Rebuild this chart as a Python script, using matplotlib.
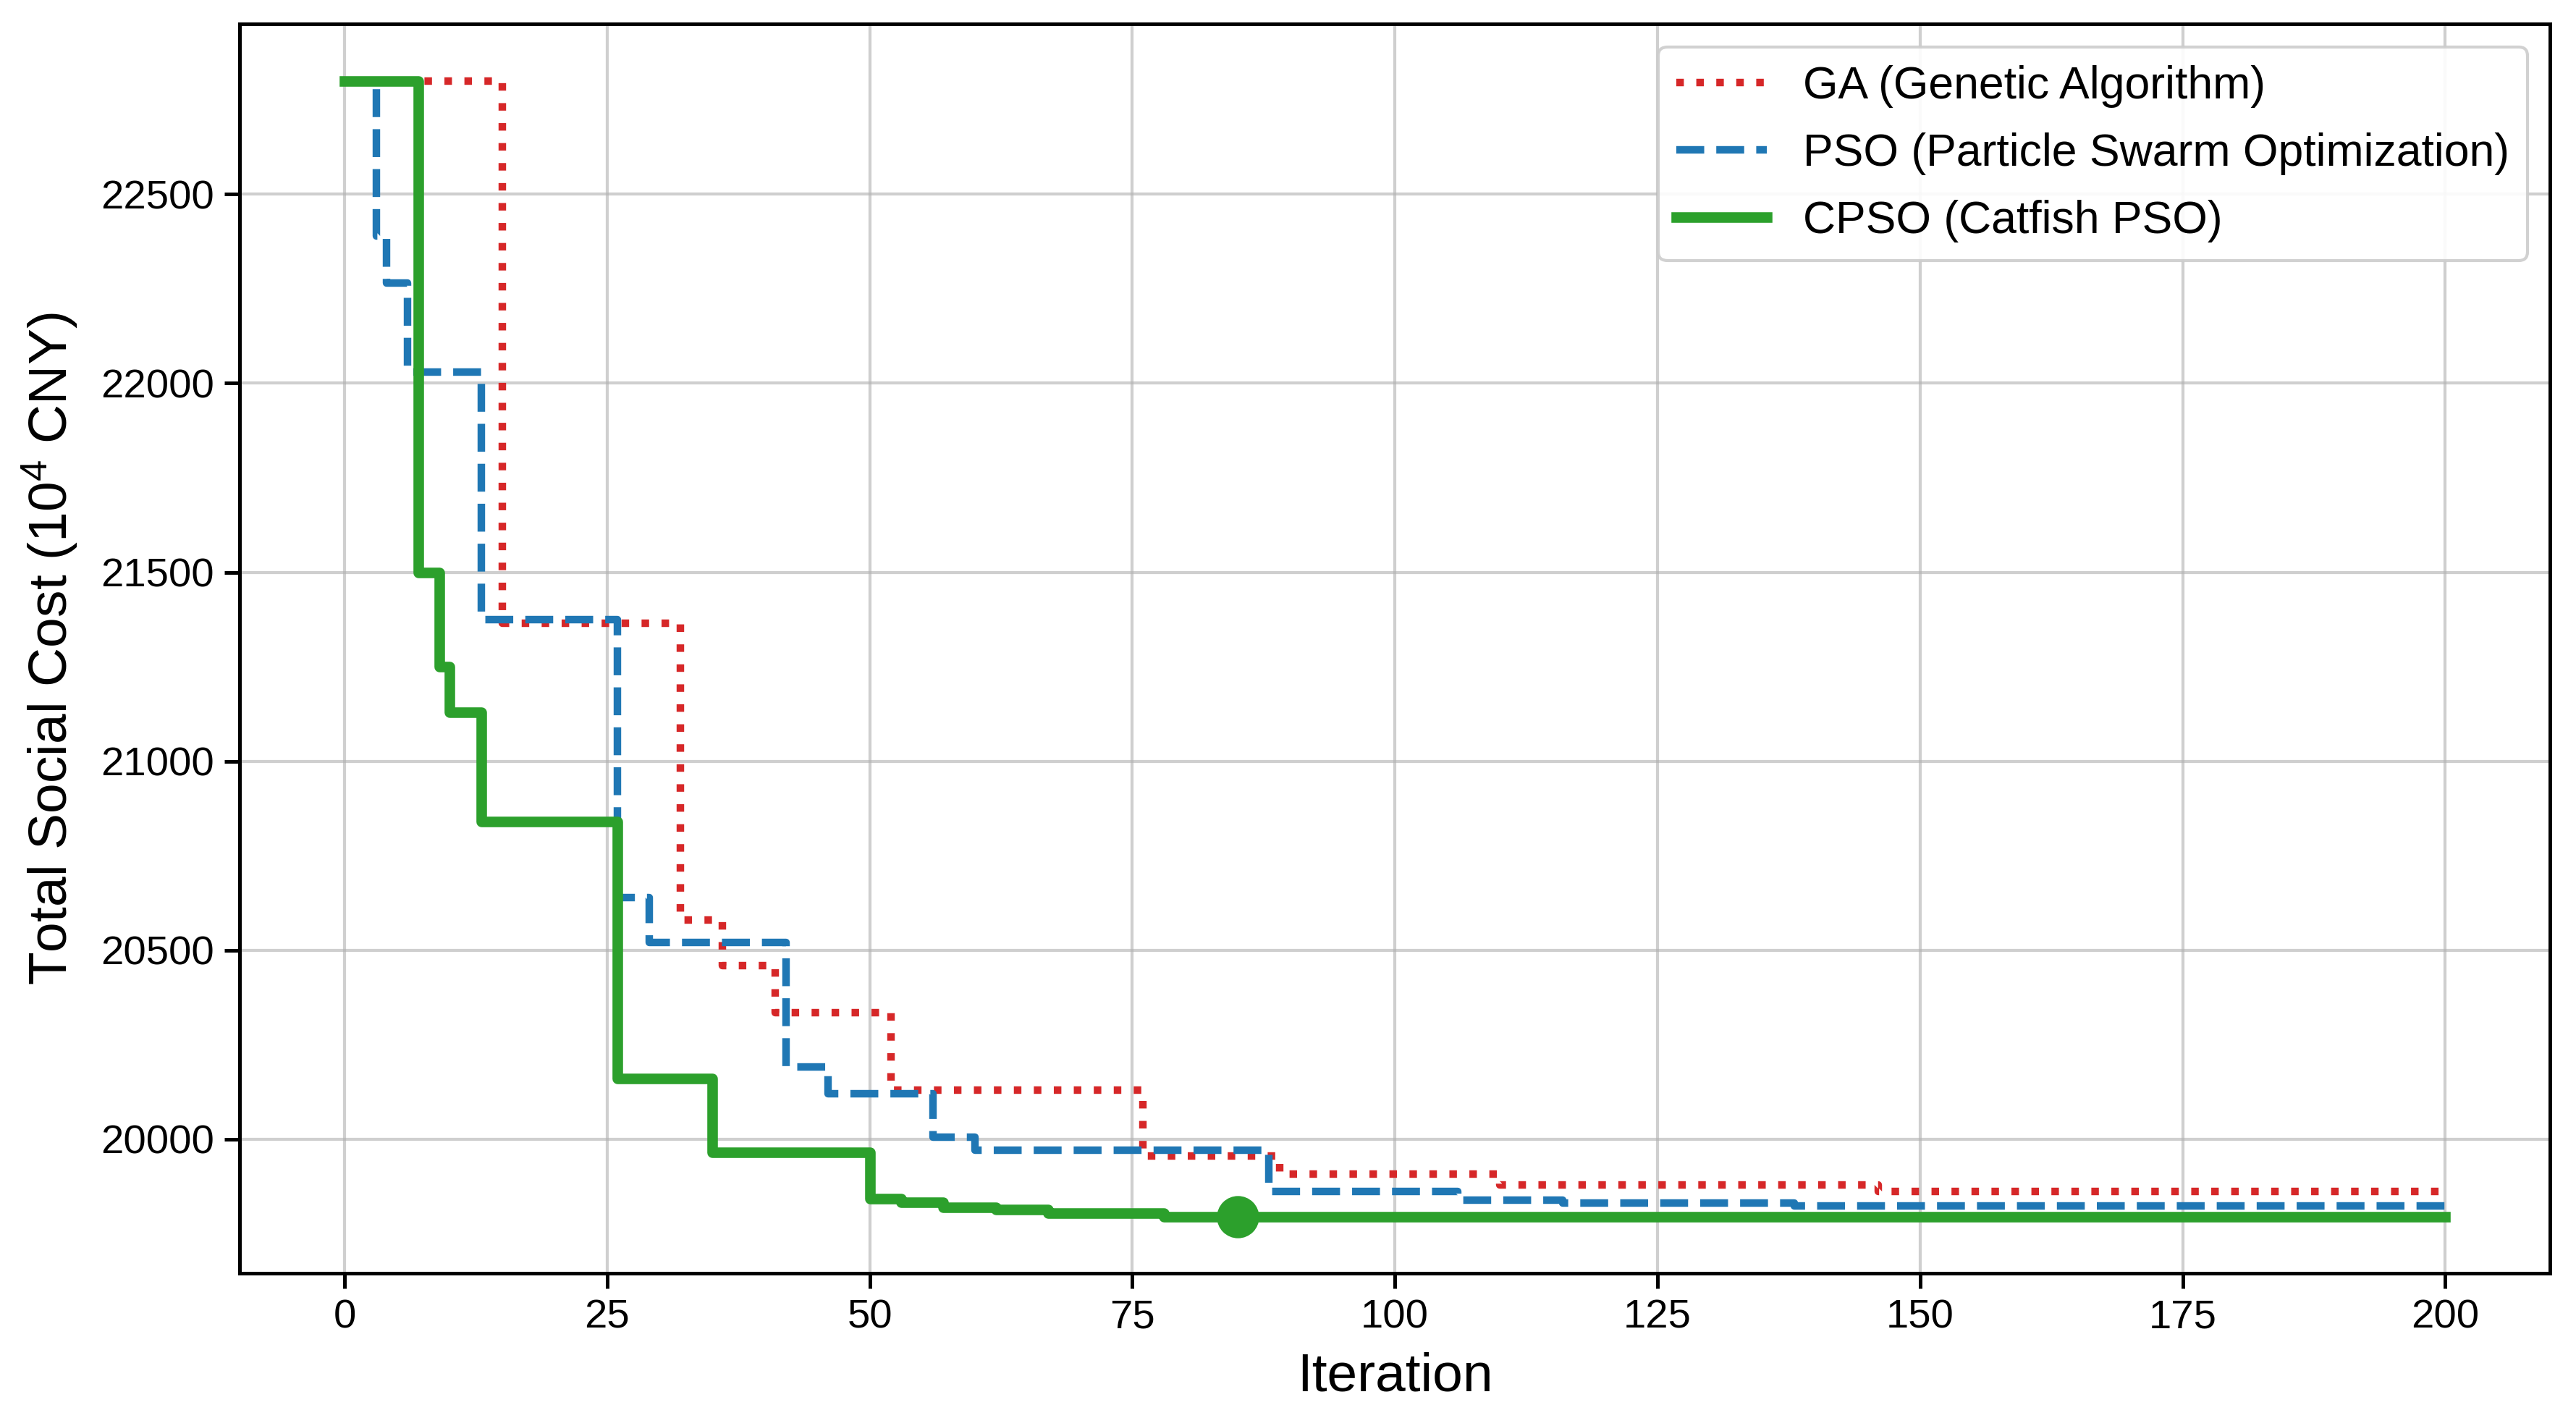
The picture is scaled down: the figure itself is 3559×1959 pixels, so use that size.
import numpy as np
import matplotlib.pyplot as plt

# convergence curves, stored as (iteration where value changes, best cost)
iter_ga = [0, 15, 32, 36, 41, 52, 76, 89, 110, 146, 200]
cost_ga = [22800, 21365, 20580, 20460, 20335, 20130, 19955, 19907, 19878, 19862, 19862]

iter_pso = [0, 3, 4, 6, 13, 26, 29, 42, 46, 56, 60, 88, 106, 116, 138, 200]
cost_pso = [22800, 22390, 22265, 22030, 21375, 20640, 20520, 20190, 20120, 20005,
            19970, 19862, 19838, 19830, 19824, 19824]

iter_cpso = [0, 7, 9, 10, 13, 26, 35, 50, 53, 57, 62, 67, 78, 200]
cost_cpso = [22800, 21500, 21250, 21130, 20840, 20160, 19965, 19843, 19833, 19820,
             19814, 19804, 19795, 19795]

best_iter = 85
best_cost = 19795

plt.rcParams['font.family'] = ['Liberation Sans', 'DejaVu Sans']
plt.rcParams['mathtext.fontset'] = 'custom'
plt.rcParams['mathtext.rm'] = 'Liberation Sans'
plt.rcParams['mathtext.it'] = 'Liberation Sans'

fig = plt.figure(figsize=(3559 / 300, 1959 / 300), dpi=300)
ax = fig.add_axes([0.093, 0.102, 0.897, 0.881])

ax.step(iter_ga, cost_ga, where='post', color='tab:red', linestyle=':',
        linewidth=2.5, label='GA (Genetic Algorithm)')
ax.step(iter_pso, cost_pso, where='post', color='tab:blue', linestyle='--',
        linewidth=2.5, label='PSO (Particle Swarm Optimization)')
ax.step(iter_cpso, cost_cpso, where='post', color='tab:green', linestyle='-',
        linewidth=3.5, label='CPSO (Catfish PSO)')
ax.plot([best_iter], [best_cost], 'o', color='tab:green', markersize=13)

ax.set_xticks([0, 25, 50, 75, 100, 125, 150, 175, 200])
ax.set_yticks([20000, 20500, 21000, 21500, 22000, 22500])
ax.tick_params(axis='both', labelsize=13.5, width=1.2, length=5)
ax.grid(True, color='#b0b0b0', alpha=0.6, linewidth=1)
for s in ax.spines.values():
    s.set_linewidth(1.2)

ax.set_xlabel('Iteration', fontsize=18, labelpad=5)
ax.set_ylabel('Total Social Cost (10$^4$ CNY)', fontsize=18, labelpad=7)

ax.legend(loc='upper right', fontsize=15, framealpha=0.9, edgecolor='#cccccc',
          labelspacing=0.55)

fig.savefig('out.png', dpi=300)
